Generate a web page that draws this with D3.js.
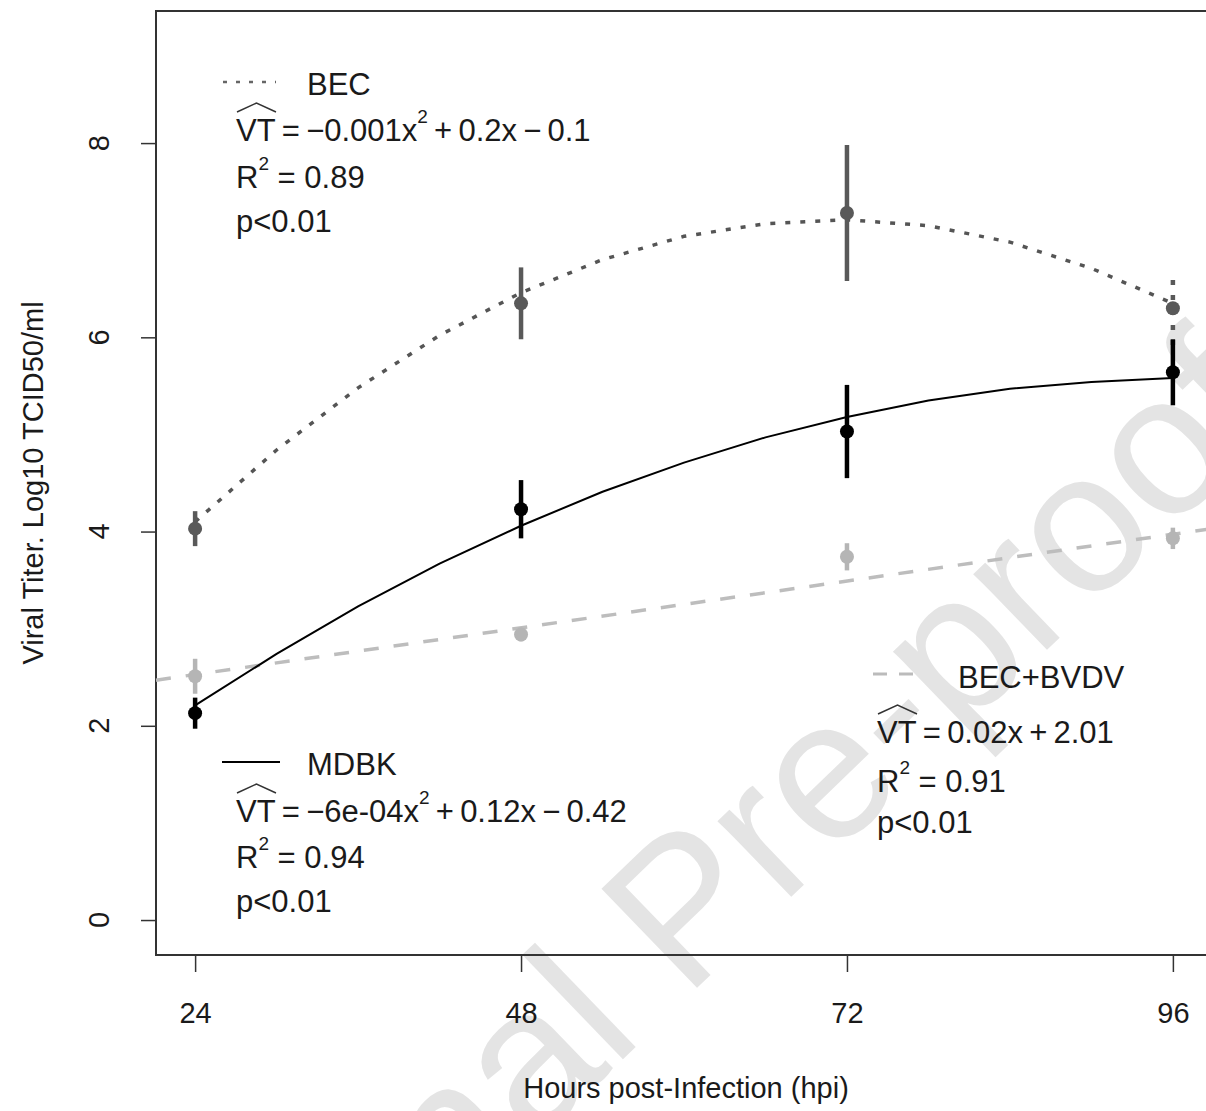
<!DOCTYPE html>
<html>
<head>
<meta charset="utf-8">
<script src="https://cdn.jsdelivr.net/npm/d3@7"></script>
<style>
  body { margin: 0; background: white; }
  svg { display: block; }
</style>
</head>
<body>
<div id="chart"></div>
<script>
var hours = [24, 48, 72, 96];
var becMean = [4.03, 6.35, 7.28, 6.30];
var becErr = [0.18, 0.37, 0.70, 0.38];
var mdbkMean = [2.13, 4.23, 5.03, 5.64];
var mdbkErr = [0.16, 0.30, 0.48, 0.34];
var bvdvMean = [2.51, 2.94, 3.74, 3.93];
var bvdvErr = [0.18, 0.07, 0.14, 0.11];

// Fitted curves, every 6 hours
var fitHours = [24, 30, 36, 42, 48, 54, 60, 66, 72, 78, 84, 90, 96];
var becFit = [4.10, 4.84, 5.48, 6.02, 6.46, 6.80, 7.04, 7.17, 7.21, 7.15, 6.98, 6.71, 6.35];
var mdbkFit = [2.21, 2.74, 3.23, 3.67, 4.06, 4.41, 4.71, 4.97, 5.18, 5.35, 5.47, 5.54, 5.58];
// straight regression line spans the whole plot
var bvdvFitHours = [21.12, 98.88];
var bvdvFit = [2.47, 4.03];

var xTicks = [24, 48, 72, 96];
var yTicks = [0, 2, 4, 6, 8];

var width = 1206;
var height = 1111;
var font = "'Liberation Sans', Arial, sans-serif";
var textColor = "#1a1a1a";
var thin = "\u2009";

var svg = d3.select("#chart").append("svg")
  .attr("width", width)
  .attr("height", height)
  .style("font-family", font);

svg.append("rect").attr("width", width).attr("height", height).attr("fill", "white");

// watermark behind everything
svg.append("text")
  .attr("transform", "translate(1285,420) rotate(-44)")
  .attr("text-anchor", "end")
  .attr("font-size", "200px")
  .attr("fill", "#e4e4e4")
  .text("Journal Pre-proof");

// Scales (R style: 4% padding around data range)
var xScale = d3.scaleLinear().domain([21.12, 98.88]).range([156, 1212]);
var yScale = d3.scaleLinear().domain([-0.36, 9.36]).range([955, 11]);

// Plot box
svg.append("rect")
  .attr("x", 156).attr("y", 11)
  .attr("width", 1212 - 156).attr("height", 955 - 11)
  .attr("fill", "none")
  .attr("stroke", "#333")
  .attr("stroke-width", 2);

// X axis
var xAxis = svg.append("g")
  .attr("transform", "translate(0,955)")
  .call(d3.axisBottom(xScale).tickValues(xTicks).tickSize(17).tickPadding(30));
xAxis.select(".domain").remove();
xAxis.selectAll("line").attr("stroke", "#333").attr("stroke-width", 1.5);
xAxis.selectAll("text")
  .attr("font-family", font)
  .attr("font-size", "29px")
  .attr("fill", textColor)
  .attr("dy", "0.71em");

// Y axis: ticks drawn by axis, labels rotated like R's default
var yAxis = svg.append("g")
  .attr("transform", "translate(156,0)")
  .call(d3.axisLeft(yScale).tickValues(yTicks).tickSize(15).tickFormat(""));
yAxis.select(".domain").remove();
yAxis.selectAll("line").attr("stroke", "#333").attr("stroke-width", 1.5);

svg.append("g").selectAll("text")
  .data(yTicks)
  .enter().append("text")
  .attr("transform", function(d) { return "translate(109," + yScale(d) + ") rotate(-90)"; })
  .attr("text-anchor", "middle")
  .attr("font-size", "29px")
  .attr("fill", textColor)
  .text(function(d) { return d; });

// Axis titles
svg.append("text")
  .attr("x", 686).attr("y", 1098)
  .attr("text-anchor", "middle")
  .attr("font-size", "29px")
  .attr("fill", textColor)
  .text("Hours post-Infection (hpi)");

svg.append("text")
  .attr("transform", "translate(43,483) rotate(-90)")
  .attr("text-anchor", "middle")
  .attr("font-size", "29px")
  .attr("fill", textColor)
  .text("Viral Titer. Log10 TCID50/ml");

// Series styles
var series = [
  { mean: becMean, err: becErr, color: "#595959", fit: becFit, fitX: fitHours, dash: "5,10", fitWidth: 3.5, fitColor: "#555" },
  { mean: bvdvMean, err: bvdvErr, color: "#b5b5b5", fit: bvdvFit, fitX: bvdvFitHours, dash: "15,15", fitWidth: 3.5, fitColor: "#bdbdbd" },
  { mean: mdbkMean, err: mdbkErr, color: "#000", fit: mdbkFit, fitX: fitHours, dash: null, fitWidth: 2, fitColor: "#000" }
];

var line = d3.line()
  .x(function(d) { return xScale(d[0]); })
  .y(function(d) { return yScale(d[1]); });

series.forEach(function(s) {
  // fitted curve
  var pts = s.fitX.map(function(h, i) { return [h, s.fit[i]]; });
  svg.append("path")
    .attr("d", line(pts))
    .attr("fill", "none")
    .attr("stroke", s.fitColor)
    .attr("stroke-width", s.fitWidth)
    .attr("stroke-dasharray", s.dash);

  // error bars
  svg.append("g").selectAll("line")
    .data(hours)
    .enter().append("line")
    .attr("x1", function(d) { return xScale(d); })
    .attr("x2", function(d) { return xScale(d); })
    .attr("y1", function(d, i) { return yScale(s.mean[i] - s.err[i]); })
    .attr("y2", function(d, i) { return yScale(s.mean[i] + s.err[i]); })
    .attr("stroke", s.color)
    .attr("stroke-width", 4.5)
    // BEC's last bar is printed dotted in the original
    .attr("stroke-dasharray", function(d, i) { return (s.dash === "5,10" && i === 3) ? "5,10" : null; });

  // mean points
  svg.append("g").selectAll("circle")
    .data(hours)
    .enter().append("circle")
    .attr("cx", function(d) { return xScale(d); })
    .attr("cy", function(d, i) { return yScale(s.mean[i]); })
    .attr("r", 7)
    .attr("fill", s.color);
});

// Legend blocks with regression equations
function drawHat(g, x0, x1, base) {
  var mid = (x0 + x1) / 2;
  g.append("path")
    .attr("d", "M" + x0 + "," + (base - 29) + " L" + mid + "," + (base - 38) + " L" + x1 + "," + (base - 29))
    .attr("fill", "none")
    .attr("stroke", "#333")
    .attr("stroke-width", 1.5);
}

// text with one optional superscript: parts = [before, sup, after]
function mathText(g, x, y, parts) {
  var t = g.append("text").attr("x", x).attr("y", y);
  t.append("tspan").text(parts[0]);
  if (parts.length > 1) {
    t.append("tspan").attr("dy", -18).attr("font-size", "19px").text(parts[1]);
    t.append("tspan").attr("dy", 18).text(parts[2]);
  }
  return t;
}

function drawBlock(opts) {
  var g = svg.append("g").attr("fill", textColor).attr("font-size", "31px");
  var b = opts.baselines;

  // legend key line
  g.append("line")
    .attr("x1", opts.keyX0).attr("x2", opts.keyX1)
    .attr("y1", opts.keyY).attr("y2", opts.keyY)
    .attr("stroke", opts.keyColor)
    .attr("stroke-width", opts.keyWidth)
    .attr("stroke-dasharray", opts.keyDash);

  g.append("text").attr("x", opts.labelX).attr("y", b[0]).text(opts.label);

  mathText(g, opts.textX, b[1], opts.eq);
  drawHat(g, opts.textX + 1, opts.textX + 40, b[1]);
  mathText(g, opts.textX, b[2], ["R", "2", " = " + opts.r2]);
  g.append("text").attr("x", opts.textX).attr("y", b[3]).text(opts.p);
}

drawBlock({
  label: "BEC", labelX: 307, textX: 236,
  baselines: [95, 141, 188, 232],
  keyX0: 223, keyX1: 276, keyY: 82, keyColor: "#666", keyWidth: 2.5, keyDash: "4,9",
  eq: ["VT" + thin + "=" + thin + "\u22120.001x", "2", thin + "+" + thin + "0.2x" + thin + "\u2212" + thin + "0.1"],
  r2: "0.89", p: "p<0.01"
});

drawBlock({
  label: "MDBK", labelX: 307, textX: 236,
  baselines: [775, 822, 868, 912],
  keyX0: 222, keyX1: 280, keyY: 762, keyColor: "#000", keyWidth: 2, keyDash: null,
  eq: ["VT" + thin + "=" + thin + "\u22126e-04x", "2", thin + "+" + thin + "0.12x" + thin + "\u2212" + thin + "0.42"],
  r2: "0.94", p: "p<0.01"
});

drawBlock({
  label: "BEC+BVDV", labelX: 958, textX: 877,
  baselines: [688, 743, 792, 833],
  keyX0: 873, keyX1: 924, keyY: 674, keyColor: "#bbb", keyWidth: 3, keyDash: "14,12",
  eq: ["VT" + thin + "=" + thin + "0.02x" + thin + "+" + thin + "2.01"],
  r2: "0.91", p: "p<0.01"
});
</script>
</body>
</html>
